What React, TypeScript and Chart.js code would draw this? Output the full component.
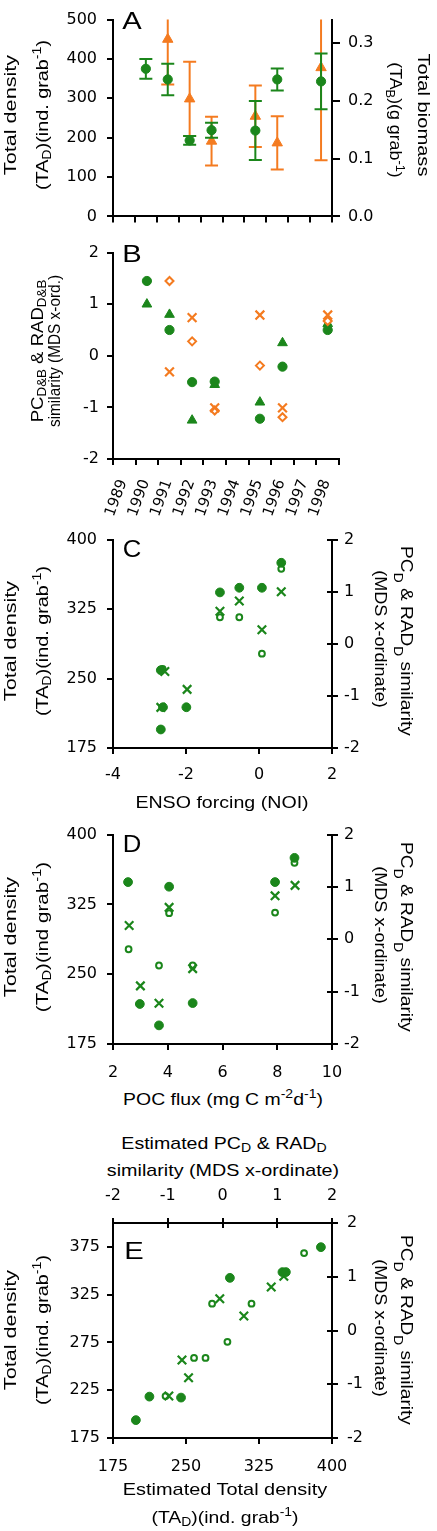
import React, { useEffect, useLayoutEffect, useRef, useState } from 'react';
import { Chart, registerables } from 'chart.js';

Chart.register(...registerables);
Chart.defaults.font.family = 'DejaVu Sans';

const GREEN = '#1b861b';
const ORANGE = '#f47b20';
const TITLE_FAMILY = '"Liberation Sans", Arial, Helvetica, sans-serif';

// ---------- Panel A & B: sampling years ----------
const yearTicks = [1989, 1990, 1991, 1992, 1993, 1994, 1995, 1996, 1997, 1998, 1999];
const sampleYears = [1990.5, 1991.5, 1992.5, 1993.5, 1995.5, 1996.5, 1998.5];
const biomassYears = [1991.5, 1992.5, 1993.5, 1995.5, 1996.5, 1998.5];

// Panel A: total density (left axis) and total biomass (right axis), mean ± error
const densityMean = [375, 348, 193, 219, 218, 348, 343];
const densityErr = [25, 40, 11, 19, 75, 28, 71];
const biomassMean = [0.306, 0.203, 0.13, 0.173, 0.127, 0.257];
const biomassErr = [0.078, 0.064, 0.042, 0.053, 0.046, 0.16];
const densityTicks = [0, 100, 200, 300, 400, 500];
const biomassTicks = [0, 0.1, 0.2, 0.3];

// Panel B: MDS x-ordinates
const pcDensityB = [1.45, 0.5, -0.51, -0.5, -1.22, -0.21, 0.5];
const radDensityB = [1.0, 0.8, -1.25, -0.56, -0.9, 0.25, 0.62];
const pcBiomassB = [1.45, 0.28, -1.06, -0.19, -1.19, 0.675];
const radBiomassB = [-0.31, 0.74, -1.01, 0.79, -1.01, 0.79];
const mdsTicks = [-2, -1, 0, 1, 2];

// Panel C: ENSO forcing (NOI)
const densityTicks2 = [175, 250, 325, 400];
const ensoTicks = [-4, -2, 0, 2];
const ensoDensityX = [-2.69, -2.63, -1.99, -2.69, -1.07, -0.54, 0.08, 0.61];
const ensoDensityY = [259, 219, 219, 195, 343, 348, 348, 375];
const ensoPcX = [-2.64, -1.07, -0.54, 0.08, 0.61];
const ensoPcY = [-0.48, 0.51, 0.51, -0.19, 1.44];
const ensoRadX = [-2.58, -2.69, -1.97, -1.07, -0.54, 0.08, 0.61];
const ensoRadY = [-0.53, -1.22, -0.875, 0.625, 0.82, 0.27, 1.0];

// Panel D: POC flux
const pocTicks = [2, 4, 6, 8, 10];
const pocDensityX = [2.55, 4.05, 2.98, 3.68, 4.91, 7.92, 8.63];
const pocDensityY = [349, 344, 218, 195, 219, 349, 375];
const pocPcX = [2.57, 3.68, 4.05, 4.91, 7.92, 8.63];
const pocPcY = [-0.19, -0.5, 0.5, -0.5, 0.51, 1.46];
const pocRadX = [2.59, 3.0, 3.68, 4.05, 4.91, 7.92, 8.65];
const pocRadY = [0.265, -0.89, -1.22, 0.61, -0.56, 0.83, 1.03];

// Panel E: estimated vs observed
const estDensityTicks = [175, 250, 325, 400];
const obsDensityTicksE = [175, 225, 275, 325, 375];
const estDensityX = [198.5, 212.4, 244.9, 295.1, 349.1, 352.6, 388.6];
const obsDensityY = [193.7, 218.3, 217.3, 342.6, 348.6, 348.6, 374.7];
const estPcX = [-1.04, -0.52, -0.31, 0.09, -0.19, 0.53, 1.49];
const obsPcY = [-1.22, -0.51, -0.51, -0.21, 0.5, 0.5, 1.44];
const estRadX = [-0.98, -0.74, -0.62, -0.05, 0.39, 0.89, 1.12];
const obsRadY = [-1.22, -0.55, -0.88, 0.59, 0.27, 0.81, 1.01];

// ---------- helpers ----------
const pts = (xs: number[], ys: number[]) => xs.map((x, i) => ({ x, y: ys[i] }));
const errSegments = (xs: number[], mean: number[], err: number[]) =>
  xs.flatMap((x, i) => [
    { x, y: mean[i] - err[i] },
    { x, y: mean[i] + err[i] },
    { x, y: null as any },
  ]);

const innerTicks = {
  id: 'innerTicks',
  afterDraw(chart: any, _args: any, opts: any) {
    const list = (opts && opts.axes) || [];
    const ctx = chart.ctx;
    ctx.save();
    ctx.strokeStyle = '#000';
    ctx.lineWidth = 2;
    for (let k = 0; k < list.length; k++) {
      const { id, len } = list[k];
      const s = chart.scales[id];
      if (!s) continue;
      for (const t of s.ticks) {
        const p = Math.round(s.getPixelForValue(t.value));
        ctx.beginPath();
        if (s.position === 'right') {
          ctx.moveTo(s.left, p);
          ctx.lineTo(s.left - len, p);
        } else if (s.position === 'top') {
          ctx.moveTo(p, s.bottom);
          ctx.lineTo(p, s.bottom + len);
        }
        ctx.stroke();
      }
    }
    ctx.restore();
  },
};

function axis(o: any) {
  return {
    type: 'linear',
    position: o.position,
    min: o.min,
    max: o.max,
    border: { display: true, color: '#000', width: 2 },
    grid: {
      display: true,
      drawOnChartArea: false,
      drawTicks: true,
      tickLength: o.tl ?? 6,
      tickWidth: 2,
      tickColor: '#000',
      color: '#000',
      lineWidth: 2,
    },
    ticks: {
      display: o.showLabels !== false,
      color: '#000',
      font: { family: 'DejaVu Sans', size: o.fontSize ?? 16 },
      padding: o.pad ?? 6,
      autoSkip: false,
      maxRotation: o.rotation ?? 0,
      minRotation: o.rotation ?? 0,
      labelOffset: o.labelOffset ?? 0,
      callback: (v: number) => (o.fmt ? o.fmt(v) : String(v)),
    },
    afterBuildTicks: (s: any) => {
      s.ticks = o.ticks.map((v: number) => ({ value: v }));
    },
    afterFit: (s: any) => {
      if (o.width != null) s.width = o.width;
      if (o.height != null) s.height = o.height;
    },
  };
}

const filled = (data: any[], color: string, r = 4.4, extra: any = {}) => ({
  data,
  pointStyle: 'circle',
  pointRadius: r,
  pointBackgroundColor: color,
  pointBorderColor: color,
  pointBorderWidth: 1,
  showLine: false,
  ...extra,
});
const openCircle = (data: any[], color: string, extra: any = {}) => ({
  data,
  pointStyle: 'circle',
  pointRadius: 2.9,
  pointBackgroundColor: '#fff',
  pointBorderColor: color,
  pointBorderWidth: 2,
  showLine: false,
  ...extra,
});
const cross = (data: any[], color: string, extra: any = {}) => ({
  data,
  pointStyle: 'crossRot',
  pointRadius: 6,
  pointBackgroundColor: color,
  pointBorderColor: color,
  pointBorderWidth: 2.2,
  showLine: false,
  ...extra,
});
const triangle = (data: any[], color: string, r: number, extra: any = {}) => ({
  data,
  pointStyle: 'triangle',
  pointRadius: r,
  pointBackgroundColor: color,
  pointBorderColor: color,
  pointBorderWidth: 1,
  showLine: false,
  ...extra,
});
const diamond = (data: any[], color: string, extra: any = {}) => ({
  data,
  pointStyle: 'rectRot',
  pointRadius: 4,
  pointBackgroundColor: '#fff',
  pointBorderColor: color,
  pointBorderWidth: 2,
  showLine: false,
  ...extra,
});
const errorBars = (data: any[], color: string, extra: any = {}) => ({
  data,
  showLine: true,
  spanGaps: false,
  borderColor: color,
  borderWidth: 2,
  pointStyle: 'line',
  pointRadius: 6.5,
  pointBorderColor: color,
  pointBorderWidth: 2,
  pointBackgroundColor: color,
  ...extra,
});

function baseOptions(padding: any, scales: any, inner: any[] = []) {
  return {
    animation: false,
    responsive: false,
    maintainAspectRatio: false,
    devicePixelRatio: 1,
    events: [],
    layout: { padding },
    plugins: {
      legend: { display: false },
      tooltip: { enabled: false },
      innerTicks: { axes: inner },
    },
    scales,
  };
}

// ---------- chart configs ----------
const configA = () => ({
  type: 'scatter',
  data: {
    datasets: [
      filled(pts(sampleYears, densityMean), GREEN, 4.6, { yAxisID: 'y' }),
      errorBars(errSegments(sampleYears, densityMean, densityErr), GREEN, { yAxisID: 'y' }),
      triangle(pts(biomassYears, biomassMean), ORANGE, 6, { yAxisID: 'y2' }),
      errorBars(errSegments(biomassYears, biomassMean, biomassErr), ORANGE, { yAxisID: 'y2' }),
    ],
  },
  options: baseOptions({ top: 12, left: 0, right: 0, bottom: 0 }, {
    x: axis({ position: 'bottom', min: 1989, max: 1999, ticks: yearTicks, showLabels: false, height: 17 }),
    y: axis({ position: 'left', min: 0, max: 500, ticks: densityTicks, width: 113, pad: 10 }),
    y2: axis({ position: 'right', min: 0, max: 0.34, ticks: biomassTicks, width: 105, tl: 8, pad: 8, fmt: (v: number) => v.toFixed(1) }),
  }),
  plugins: [innerTicks],
});

const configB = () => ({
  type: 'scatter',
  data: {
    datasets: [
      cross(pts(biomassYears, radBiomassB), ORANGE, { pointRadius: 6.2 }),
      diamond(pts(biomassYears, pcBiomassB), ORANGE),
      filled(pts(sampleYears, pcDensityB), GREEN, 4.6),
      triangle(pts(sampleYears, radDensityB), GREEN, 5.6),
    ],
  },
  options: baseOptions({ top: 10, left: 0, right: 98, bottom: 0 }, {
    x: axis({
      position: 'bottom', min: 1989, max: 1999, ticks: yearTicks, height: 76, pad: 12,
      rotation: 70, labelOffset: 10, fontSize: 15,
      fmt: (v: number) => (v < 1999 ? String(v) : ''),
    }),
    y: axis({ position: 'left', min: -2, max: 2, ticks: mdsTicks, width: 113, pad: 8 }),
  }),
  plugins: [innerTicks],
});

const configC = () => ({
  type: 'scatter',
  data: {
    datasets: [
      filled(pts(ensoDensityX, ensoDensityY), GREEN, 4.4, { yAxisID: 'y' }),
      cross(pts(ensoRadX, ensoRadY), GREEN, { yAxisID: 'y2' }),
      openCircle(pts(ensoPcX, ensoPcY), GREEN, { yAxisID: 'y2' }),
    ],
  },
  options: baseOptions({ top: 14, left: 0, right: 0, bottom: 0 }, {
    x: axis({ position: 'bottom', min: -4, max: 2, ticks: ensoTicks, height: 42, pad: 11 }),
    y: axis({ position: 'left', min: 175, max: 400, ticks: densityTicks2, width: 113, pad: 10 }),
    y2: axis({ position: 'right', min: -2, max: 2, ticks: mdsTicks, width: 105, pad: 6 }),
  }, [{ id: 'y2', len: 5 }]),
  plugins: [innerTicks],
});

const configD = () => ({
  type: 'scatter',
  data: {
    datasets: [
      filled(pts(pocDensityX, pocDensityY), GREEN, 4.4, { yAxisID: 'y' }),
      cross(pts(pocRadX, pocRadY), GREEN, { yAxisID: 'y2' }),
      openCircle(pts(pocPcX, pocPcY), GREEN, { yAxisID: 'y2' }),
    ],
  },
  options: baseOptions({ top: 16, left: 0, right: 0, bottom: 0 }, {
    x: axis({ position: 'bottom', min: 2, max: 10, ticks: pocTicks, height: 41, pad: 13 }),
    y: axis({ position: 'left', min: 175, max: 400, ticks: densityTicks2, width: 113, pad: 10 }),
    y2: axis({ position: 'right', min: -2, max: 2, ticks: mdsTicks, width: 105, pad: 6 }),
  }, [{ id: 'y2', len: 5 }]),
  plugins: [innerTicks],
});

const configE = () => ({
  type: 'scatter',
  data: {
    datasets: [
      filled(pts(estDensityX, obsDensityY), GREEN, 4.4, { xAxisID: 'x', yAxisID: 'y' }),
      cross(pts(estRadX, obsRadY), GREEN, { xAxisID: 'x2', yAxisID: 'y2' }),
      openCircle(pts(estPcX, obsPcY), GREEN, { xAxisID: 'x2', yAxisID: 'y2' }),
    ],
  },
  options: baseOptions({ top: 0, left: 0, right: 0, bottom: 0 }, {
    x: axis({ position: 'bottom', min: 175, max: 400, ticks: estDensityTicks, height: 42, pad: 13 }),
    x2: axis({ position: 'top', min: -2, max: 2, ticks: mdsTicks, height: 43, tl: 5, pad: 13 }),
    y: axis({ position: 'left', min: 175, max: 400, ticks: obsDensityTicksE, width: 113, pad: 7 }),
    y2: axis({ position: 'right', min: -2, max: 2, ticks: mdsTicks, width: 105, pad: 9 }),
  }, [{ id: 'y2', len: 5 }, { id: 'x2', len: 5 }]),
  plugins: [innerTicks],
});

// ---------- components ----------
function Panel({ top, height, makeConfig }: { top: number; height: number; makeConfig: () => any }) {
  const ref = useRef<HTMLCanvasElement>(null);
  useEffect(() => {
    const chart = new Chart(ref.current as HTMLCanvasElement, makeConfig());
    return () => chart.destroy();
  }, []);
  return (
    <canvas
      ref={ref}
      width={437}
      height={height}
      style={{ position: 'absolute', left: 0, top, width: 437, height }}
    />
  );
}

function FitText({ x, y, rot = 0, len, size = 17, children }: any) {
  const ref = useRef<HTMLDivElement>(null);
  const [sx, setSx] = useState(1);
  useLayoutEffect(() => {
    const el = ref.current;
    if (!el || !len) return;
    const w = el.offsetWidth;
    if (w > 0) setSx(len / w);
  }, [len]);
  return (
    <div
      ref={ref}
      style={{
        position: 'absolute',
        left: x,
        top: y,
        whiteSpace: 'nowrap',
        fontFamily: TITLE_FAMILY,
        fontSize: size,
        lineHeight: 1,
        color: '#000',
        transform: `translate(-50%, -50%) rotate(${rot}deg) scaleX(${sx})`,
      }}
    >
      {children}
    </div>
  );
}

const Sub = ({ children, drop = '-0.3em' }: any) => (
  <span style={{ fontSize: '0.72em', verticalAlign: drop, lineHeight: 0 }}>{children}</span>
);
const Sup = ({ children }: any) => (
  <span style={{ fontSize: '0.72em', verticalAlign: '0.5em', lineHeight: 0 }}>{children}</span>
);

const densityTitle = (cy: number, ind = 'ind.') => (
  <>
    <FitText x={10} y={cy} rot={-90} len={121}>Total density</FitText>
    <FitText x={42} y={cy} rot={-90} len={150}>
      (TA<Sub>D</Sub>)({ind} grab<Sup>-1</Sup>)
    </FitText>
  </>
);
const mdsTitle = (cy: number) => (
  <>
    <FitText x={406} y={cy} rot={90} len={190}>
      PC<Sub drop="-0.55em">D</Sub> &amp; RAD<Sub drop="-0.55em">D</Sub> similarity
    </FitText>
    <FitText x={380} y={cy - 2} rot={90} len={137}>(MDS x-ordinate)</FitText>
  </>
);

export default function App() {
  return (
    <div style={{ position: 'absolute', left: 0, top: 0, width: 437, height: 1531, background: '#fff', overflow: 'hidden' }}>
      <Panel top={0} height={236} makeConfig={configA} />
      <Panel top={235} height={300} makeConfig={configB} />
      <Panel top={520} height={270} makeConfig={configC} />
      <Panel top={815} height={270} makeConfig={configD} />
      <Panel top={1180} height={300} makeConfig={configE} />

      {/* Panel A */}
      <FitText x={132} y={21} len={19} size={23}>A</FitText>
      {densityTitle(115)}
      <FitText x={423} y={115} rot={90} len={123}>Total biomass</FitText>
      <FitText x={395} y={120} rot={90} len={115}>
        (TA<Sub>B</Sub>)(g grab<Sup>-1</Sup>)
      </FitText>

      {/* Panel B */}
      <FitText x={132} y={254} len={19} size={23}>B</FitText>
      <FitText x={37} y={351} rot={-90} len={143}>
        PC<Sub>D&amp;B</Sub> &amp; RAD<Sub>D&amp;B</Sub>
      </FitText>
      <FitText x={54} y={351} rot={-90} len={152}>similarity (MDS x-ord.)</FitText>

      {/* Panel C */}
      <FitText x={132} y={549} len={19} size={23}>C</FitText>
      {densityTitle(641)}
      {mdsTitle(641)}
      <FitText x={222} y={802} len={173}>ENSO forcing (NOI)</FitText>

      {/* Panel D */}
      <FitText x={132} y={844} len={19} size={23}>D</FitText>
      {densityTitle(937, 'ind')}
      {mdsTitle(937)}
      <FitText x={223} y={1099} len={200}>
        POC flux (mg C m<Sup>-2</Sup>d<Sup>-1</Sup>)
      </FitText>

      {/* Panel E */}
      <FitText x={224} y={1143} len={205}>
        Estimated PC<Sub>D</Sub> &amp; RAD<Sub>D</Sub>
      </FitText>
      <FitText x={223} y={1170} len={232}>similarity (MDS x-ordinate)</FitText>
      <FitText x={134} y={1251} len={19} size={23}>E</FitText>
      {densityTitle(1330)}
      {mdsTitle(1330)}
      <FitText x={225} y={1489} len={205}>Estimated Total density</FitText>
      <FitText x={225} y={1517} len={147}>
        (TA<Sub>D</Sub>)(ind. grab<Sup>-1</Sup>)
      </FitText>
    </div>
  );
}
